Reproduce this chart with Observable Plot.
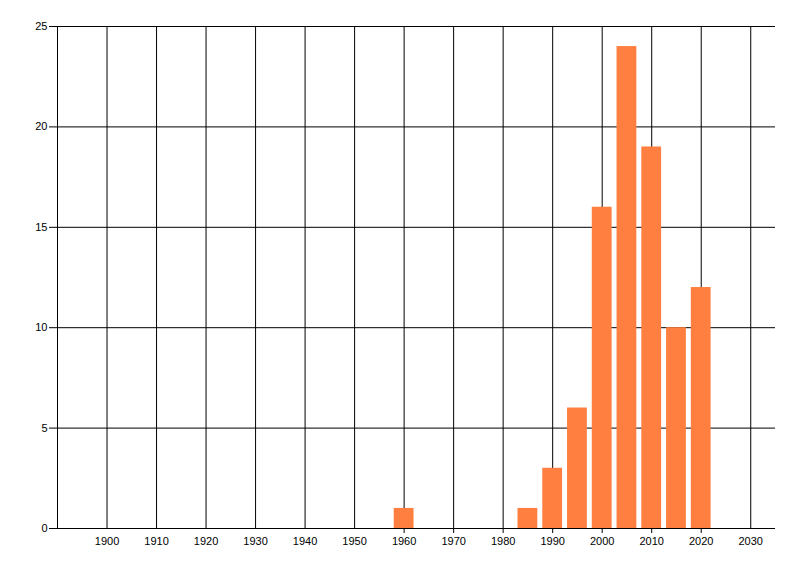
<!DOCTYPE html>
<html>
<head>
<meta charset="utf-8">
<script src="https://cdn.jsdelivr.net/npm/d3@7"></script>
<script src="https://cdn.jsdelivr.net/npm/@observablehq/plot@0.6"></script>
<style>
  html, body { margin: 0; padding: 0; background: #fff; }
  svg { display: block; }
</style>
</head>
<body>
<div id="chart"></div>
<script>
const years = [1960, 1985, 1990, 1995, 2000, 2005, 2010, 2015, 2020];
const counts = [1, 1, 3, 6, 16, 24, 19, 10, 12];
const xTicks = [1900, 1910, 1920, 1930, 1940, 1950, 1960, 1970, 1980, 1990, 2000, 2010, 2020, 2030];
const xStubTicks = [1960, 1970, 1980, 1990, 2000, 2010, 2020];
const yTicks = [0, 5, 10, 15, 20, 25];
const xDomain = [1890, 2035];
const yDomain = [0, 25];

const halfWidth = 2;
const data = years.map((y, i) => ({year: y, count: counts[i]}));

const chart = Plot.plot({
  width: 800,
  height: 576,
  marginLeft: 57,
  marginRight: 25,
  marginTop: 26,
  marginBottom: 48,
  style: {fontFamily: "'Liberation Sans', Arial, sans-serif", fontSize: "11px", color: "#000", background: "#fff"},
  x: {domain: xDomain, label: null},
  y: {domain: yDomain, label: null},
  marks: [
    Plot.ruleY(yTicks, {y: d => d, x1: xDomain[0], x2: xDomain[1], stroke: "#000", strokeWidth: 1}),
    Plot.ruleX([xDomain[0], ...xTicks], {x: d => d, y1: yDomain[0], y2: yDomain[1], stroke: "#000", strokeWidth: 1}),
    Plot.rectY(data, {x1: d => d.year - halfWidth, x2: d => d.year + halfWidth, y: "count", fill: "#FF7F40"}),
    Plot.ruleY([0], {x1: xDomain[0], x2: xDomain[1], stroke: "#000", strokeWidth: 1}),
    Plot.axisY(yTicks, {tickSize: 8, tickPadding: 2, stroke: "#000", fill: "#000", fontSize: 11, label: null}),
    Plot.axisX(xStubTicks, {tickSize: 5, tickFormat: () => "", stroke: "#000", label: null}),
    Plot.axisX(xTicks, {tickSize: 0, tickPadding: 9, tickFormat: d => String(d), fill: "#000", fontSize: 11, label: null})
  ]
});
document.getElementById("chart").appendChild(chart);
</script>
</body>
</html>
